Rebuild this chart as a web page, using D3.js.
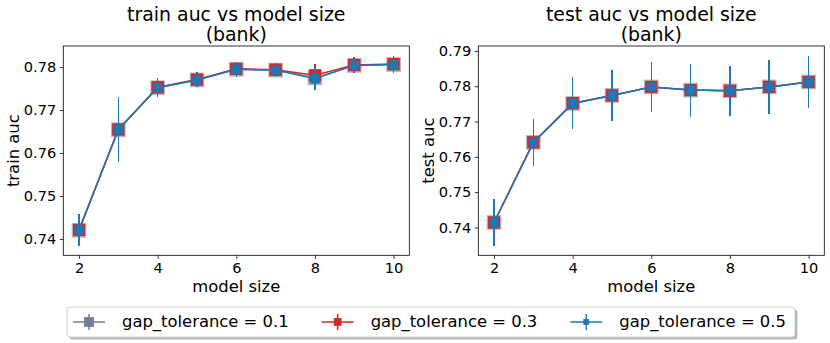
<!DOCTYPE html>
<html>
<head>
<meta charset="utf-8">
<script src="https://cdn.jsdelivr.net/npm/d3@7"></script>
<style>
body { margin: 0; background: #fff; }
svg { display: block; font-family: "DejaVu Sans", sans-serif; }
</style>
</head>
<body>
<svg width="830" height="343"></svg>
<script>
// model sizes on the x axis
var sizes = [2, 3, 4, 5, 6, 7, 8, 9, 10];
var tolerances = ["0.1", "0.3", "0.5"];
var xTicks = [2, 4, 6, 8, 10];

// train auc (mean, std) per gap_tolerance
var trainMean01 = [0.7420, 0.7654, 0.7752, 0.7770, 0.7795, 0.7793, 0.7775, 0.7804, 0.7806];
var trainStd01  = [0.0036, 0.0076, 0.0021, 0.0017, 0.0017, 0.0016, 0.0027, 0.0018, 0.0020];
var trainMean03 = [0.7421, 0.7655, 0.7753, 0.7771, 0.7796, 0.7794, 0.7781, 0.7805, 0.7807];
var trainStd03  = [0.0036, 0.0075, 0.0021, 0.0017, 0.0017, 0.0016, 0.0027, 0.0018, 0.0020];
var trainMean05 = [0.7421, 0.7655, 0.7752, 0.7770, 0.7795, 0.7793, 0.7773, 0.7804, 0.7806];
var trainStd05  = [0.0036, 0.0076, 0.0021, 0.0017, 0.0017, 0.0016, 0.0027, 0.0018, 0.0020];

// test auc (mean, std) per gap_tolerance
var testMean01 = [0.7414, 0.7641, 0.7751, 0.7774, 0.7798, 0.7789, 0.7787, 0.7798, 0.7812];
var testStd01  = [0.0066, 0.0067, 0.0073, 0.0072, 0.0070, 0.0075, 0.0071, 0.0076, 0.0075];
var testMean03 = [0.7414, 0.7641, 0.7752, 0.7774, 0.7798, 0.7789, 0.7787, 0.7798, 0.7812];
var testStd03  = [0.0066, 0.0067, 0.0073, 0.0072, 0.0070, 0.0075, 0.0071, 0.0076, 0.0075];
var testMean05 = [0.7414, 0.7641, 0.7751, 0.7774, 0.7798, 0.7789, 0.7787, 0.7798, 0.7812];
var testStd05  = [0.0066, 0.0067, 0.0073, 0.0072, 0.0070, 0.0075, 0.0071, 0.0076, 0.0075];

var svg = d3.select("svg");

// look of each series (gray drawn first, blue on top)
var styles = [
	{color: "#708090", marker: 13.5, fill: "#8a97a8", edge: "#b3bac6", opacity: 1, lmarker: 9},
	{color: "#d62728", marker: 11, fill: "#d62728", edge: "#d62728", opacity: 1, lmarker: 7},
	{color: "#1f77b4", marker: 8,  fill: "#1f77b4", edge: "#1f77b4", opacity: 1, lmarker: 5}
];

var panels = [
	{title: "train auc vs model size", ylabel: "train auc", left: 63.3,
	 means: [trainMean01, trainMean03, trainMean05], stds: [trainStd01, trainStd03, trainStd05]},
	{title: "test auc vs model size", ylabel: "test auc", left: 478.3,
	 means: [testMean01, testMean03, testMean05], stds: [testStd01, testStd03, testStd05]}
];

var plotW = 346, plotTop = 46, plotBottom = 255.3;

panels.forEach(function(p) {
	var g = svg.append("g");

	// matplotlib-like 5% margins
	var lo = d3.min(p.means, function(m, i) { return d3.min(m, function(v, j) { return v - p.stds[i][j]; }); });
	var hi = d3.max(p.means, function(m, i) { return d3.max(m, function(v, j) { return v + p.stds[i][j]; }); });
	var pad = (hi - lo) * 0.05;
	var xPad = (d3.max(sizes) - d3.min(sizes)) * 0.05;

	var x = d3.scaleLinear().domain([d3.min(sizes) - xPad, d3.max(sizes) + xPad]).range([p.left, p.left + plotW]);
	var y = d3.scaleLinear().domain([lo - pad, hi + pad]).range([plotBottom, plotTop]);

	var xAxis = g.append("g")
		.attr("transform", "translate(0," + plotBottom + ")")
		.call(d3.axisBottom(x).tickValues(xTicks).tickFormat(d3.format("d")).tickSizeOuter(0).tickSize(3.5).tickPadding(3.5));
	var yAxis = g.append("g")
		.attr("transform", "translate(" + p.left + ",0)")
		.call(d3.axisLeft(y).ticks(6).tickFormat(d3.format(".2f")).tickSizeOuter(0).tickSize(3.5).tickPadding(3.5));

	[xAxis, yAxis].forEach(function(a) {
		a.select(".domain").remove();
		a.selectAll("line").attr("stroke", "#000").attr("stroke-width", 0.8);
		a.selectAll("text").attr("font-size", "14.6px").attr("fill", "#000").attr("font-family", "DejaVu Sans");
	});

	// series
	p.means.forEach(function(m, i) {
		var st = styles[i];
		var pts = sizes.map(function(s, j) { return {x: s, y: m[j], e: p.stds[i][j]}; });

		g.append("g").selectAll("line").data(pts).enter().append("line")
			.attr("x1", function(d) { return x(d.x); })
			.attr("x2", function(d) { return x(d.x); })
			.attr("y1", function(d) { return y(d.y - d.e); })
			.attr("y2", function(d) { return y(d.y + d.e); })
			.attr("stroke", st.color)
			.attr("stroke-width", 1.6)
			.attr("shape-rendering", "crispEdges");

		g.append("path")
			.datum(pts)
			.attr("fill", "none")
			.attr("stroke", st.color)
			.attr("stroke-width", 1.5)
			.attr("d", d3.line().x(function(d) { return x(d.x); }).y(function(d) { return y(d.y); }));

		g.append("g").selectAll("rect").data(pts).enter().append("rect")
			.attr("x", function(d) { return x(d.x) - st.marker / 2; })
			.attr("y", function(d) { return y(d.y) - st.marker / 2; })
			.attr("width", st.marker)
			.attr("height", st.marker)
			.attr("fill", st.fill)
			.attr("fill-opacity", st.opacity)
			.attr("stroke", st.edge)
			.attr("stroke-width", 1.2);
	});

	// frame
	g.append("rect")
		.attr("x", p.left).attr("y", plotTop)
		.attr("width", plotW).attr("height", plotBottom - plotTop)
		.attr("fill", "none").attr("stroke", "#000").attr("stroke-width", 0.8);

	var cx = p.left + plotW / 2;
	g.append("text").attr("x", cx).attr("y", 20.7).attr("text-anchor", "middle")
		.attr("font-size", "18.9px").text(p.title);
	g.append("text").attr("x", cx).attr("y", 40.7).attr("text-anchor", "middle")
		.attr("font-size", "18.9px").text("(bank)");
	g.append("text").attr("x", cx).attr("y", 291.5).attr("text-anchor", "middle")
		.attr("font-size", "16.4px").text("model size");
	g.append("text")
		.attr("transform", "translate(" + (p.left - 44) + "," + ((plotTop + plotBottom) / 2) + ") rotate(-90)")
		.attr("text-anchor", "middle")
		.attr("font-size", "16.4px").text(p.ylabel);
});

// legend
var legX = 67, legY = 307, legH = 30;
var shadow = svg.append("rect");
var box = svg.append("rect");
var leg = svg.append("g");
var cursor = legX + 6;
tolerances.forEach(function(t, i) {
	var st = styles[i];
	var cy = legY + legH / 2;
	leg.append("line").attr("x1", cursor).attr("x2", cursor + 32).attr("y1", cy).attr("y2", cy)
		.attr("stroke", st.color).attr("stroke-width", 1.5);
	leg.append("line").attr("x1", cursor + 16).attr("x2", cursor + 16).attr("y1", cy - 8).attr("y2", cy + 8)
		.attr("stroke", st.color).attr("stroke-width", 1.5);
	leg.append("rect").attr("x", cursor + 16 - st.lmarker / 2).attr("y", cy - st.lmarker / 2)
		.attr("width", st.lmarker).attr("height", st.lmarker)
		.attr("fill", st.color).attr("stroke", st.color).attr("stroke-width", 0.8);
	var txt = leg.append("text").attr("x", cursor + 49).attr("y", legY + 20)
		.attr("font-size", "16.4px").text("gap_tolerance = " + t);
	cursor = cursor + 49 + txt.node().getComputedTextLength() + 33;
});
var legW = cursor - 33 + 9 - legX;
shadow.attr("x", legX + 2.5).attr("y", legY + 2.5).attr("width", legW).attr("height", legH)
	.attr("rx", 3).attr("fill", "#888").attr("opacity", 0.6);
box.attr("x", legX).attr("y", legY).attr("width", legW).attr("height", legH)
	.attr("rx", 3).attr("fill", "#fff").attr("stroke", "#d0d0d0").attr("stroke-width", 1);
</script>
</body>
</html>
